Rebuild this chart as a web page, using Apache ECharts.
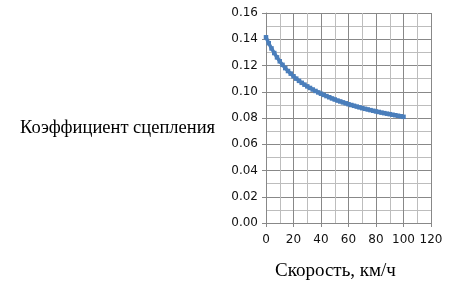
<!DOCTYPE html>
<html><head><meta charset="utf-8">
<script src="https://cdn.jsdelivr.net/npm/echarts@6/dist/echarts.min.js"></script>
<style>html,body{margin:0;padding:0;background:#fff}#c{width:452px;height:302px}</style>
</head><body><div id="c"></div>
<script>
var speed = [0,2,4,6,8,10,12,14,16,18,20,22,24,26,28,30,32,34,36,38,40,42,44,46,48,50,52,54,56,58,60,62,64,66,68,70,72,74,76,78,80,82,84,86,88,90,92,94,96,98,100];
var coef = [0.1415,0.1370,0.1330,0.1295,0.1262,0.1232,0.1205,0.1180,0.1158,0.1138,0.1118,0.1100,0.1083,0.1068,0.1054,0.1041,0.1029,0.1017,0.1006,0.0995,0.0985,0.0976,0.0967,0.0958,0.0949,0.0941,0.0933,0.0926,0.0919,0.0912,0.0905,0.0899,0.0893,0.0887,0.0881,0.0875,0.0870,0.0865,0.0860,0.0855,0.0850,0.0846,0.0841,0.0837,0.0833,0.0829,0.0825,0.0821,0.0817,0.0813,0.0809];
var xTitle = 'Скорость, км/ч';
var yTitle = 'Коэффициент сцепления';
var xMin = 0, xMax = 120, xStep = 20;
var yMin = 0, yMax = 0.16, yStep = 0.02;

var data = speed.map(function(v,i){return [v, coef[i]];});
var chart = echarts.init(document.getElementById('c'), null, {renderer:'canvas'});
var major = '#888888', minor = '#bdbdbd';
var lbl = {color:'#111', fontFamily:'DejaVu Sans', fontSize:12};
chart.setOption({
  animation:false,
  grid:{left:266, right:21, top:13, bottom:79, containLabel:false},
  xAxis:{type:'value', min:xMin, max:xMax, interval:xStep,
    axisLine:{show:true, lineStyle:{color:major, width:1}},
    axisTick:{show:true, length:4, lineStyle:{color:major}},
    axisLabel:Object.assign({margin:11}, lbl),
    splitLine:{show:true, lineStyle:{color:major, width:1}},
    minorTick:{show:true, splitNumber:2, length:0, lineStyle:{width:0}},
    minorSplitLine:{show:true, lineStyle:{color:minor, width:1}}
  },
  yAxis:{type:'value', min:yMin, max:yMax, interval:yStep,
    axisLine:{show:true, lineStyle:{color:major, width:1}},
    axisTick:{show:true, length:4, lineStyle:{color:major}},
    axisLabel:Object.assign({margin:8, formatter:function(v){return v.toFixed(2);}}, lbl),
    splitLine:{show:true, lineStyle:{color:major, width:1}},
    minorTick:{show:true, splitNumber:2, length:0, lineStyle:{width:0}},
    minorSplitLine:{show:true, lineStyle:{color:minor, width:1}}
  },
  series:[{type:'line', data:data, showSymbol:true, symbol:'rect', symbolSize:4.5,
    itemStyle:{color:'#4a7ebb'}, lineStyle:{color:'#4a7ebb', width:3.5}}],
  graphic:[
    {type:'text', left:20, top:119, style:{text:yTitle, fill:'#000', font:'18.5px "Liberation Serif"'}},
    {type:'text', left:275, top:262, style:{text:xTitle, fill:'#000', font:'19px "Liberation Serif"'}}
  ]
});
</script></body></html>
